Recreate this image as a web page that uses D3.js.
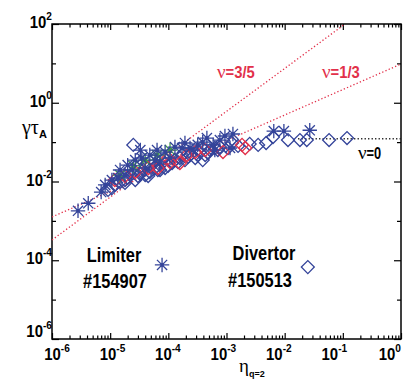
<!DOCTYPE html>
<html>
<head>
<meta charset="utf-8">
<script src="https://cdn.jsdelivr.net/npm/d3@7"></script>
<style>
body { margin: 0; background: #fff; }
svg { display: block; }
</style>
</head>
<body>
<div id="chart"></div>
<script>
// growth rate vs resistivity, limiter (#154907) and divertor (#150513) shots

// limiter shot, blue asterisks
const limiterEta = [2.8e-6, 4.2e-6, 7.0e-6, 8.2e-6, 1.07e-5, 1.8e-5, 1.48e-5, 2.0e-5, 2.7e-5, 3.3e-5,
                    3.5e-5, 4.0e-5, 4.8e-5, 6.4e-5, 7.2e-5, 8.8e-5, 1.07e-4, 1.3e-4, 1.72e-4, 2.36e-4,
                    3.2e-4, 4.6e-4, 5.9e-4, 6.3e-4, 9.4e-4, 1.15e-3, 1.29e-3, 6.5e-3, 9.7e-3, 2.7e-2,
                    1.93e-4, 2.65e-4, 3.9e-4, 7.7e-4, 5.9e-5, 2.4e-5, 1.36e-5, 7.8e-5];
const limiterGamma = [1.8e-3, 2.8e-3, 5.4e-3, 8.2e-3, 1.09e-2, 1.46e-2, 1.96e-2, 2.6e-2, 3.5e-2, 6.3e-2,
                      3.95e-2, 2.2e-2, 4.7e-2, 6.3e-2, 3.1e-2, 5.6e-2, 3.95e-2, 7.5e-2, 7.1e-2, 7.1e-2,
                      8.5e-2, 0.127, 8.5e-2, 6.3e-2, 0.143, 7.1e-2, 0.161, 0.19, 0.19, 0.2,
                      9.5e-2, 6.3e-2, 0.1, 0.113, 3.5e-2, 1.96e-2, 1.23e-2, 7.6e-5];

// green asterisks
const greenEta = [1.48e-5, 2.5e-5, 4.0e-5, 6.4e-5, 1.07e-4];
const greenGamma = [1.46e-2, 2.5e-2, 3.5e-2, 4.7e-2, 6.3e-2];

// red diamonds
const redEta = [1.2e-5, 1.8e-5, 2.7e-5, 4.5e-5, 6.6e-5, 9.9e-5, 1.07e-4, 1.58e-4, 2.1e-4, 2.9e-4,
                4.3e-4, 8.7e-4, 1.85e-3, 2.1e-3];
const redGamma = [1.09e-2, 1.38e-2, 1.74e-2, 2.2e-2, 2.2e-2, 3.95e-2, 3.1e-2, 2.95e-2, 4.7e-2, 5.6e-2,
                  6.3e-2, 5.6e-2, 8.5e-2, 7.1e-2];

// divertor shot, blue diamonds
const divertorEta = [9.2e-6, 1.2e-5, 1.48e-5, 2.0e-5, 2.4e-5, 3.0e-5, 3.7e-5, 4.8e-5, 5.9e-5, 7.2e-5,
                     8.8e-5, 1.16e-4, 1.3e-4, 1.58e-4, 1.93e-4, 2.36e-4, 2.9e-4, 3.5e-4, 3.9e-4, 4.3e-4,
                     5.2e-4, 6.3e-4, 7.7e-4, 1.24e-3, 1.58e-3, 2.5e-3, 3.5e-3, 4.8e-3, 6.3e-3, 1.14e-2,
                     1.83e-2, 2.4e-2, 5.8e-2, 0.118, 2.5e-5, 2.5e-2, 1.8e-5, 4.0e-5, 7.2e-5,
                     1.07e-5, 1.8e-5, 2.7e-5, 3.3e-5, 4.5e-5, 6.6e-5, 9.9e-5, 1.47e-4, 2.18e-4, 3.2e-4,
                     4.8e-4, 7.1e-4, 1.06e-3, 1.72e-4, 7.8e-5, 4.0e-5];
const divertorGamma = [6.1e-3, 8.2e-3, 9.7e-3, 1.23e-2, 1.64e-2, 1.38e-2, 1.96e-2, 1.74e-2, 2.2e-2, 2.6e-2,
                       2.2e-2, 2.95e-2, 3.5e-2, 3.95e-2, 3.5e-2, 4.7e-2, 3.95e-2, 5.6e-2, 3.5e-2, 4.7e-2,
                       6.3e-2, 7.1e-2, 7.5e-2, 9.5e-2, 8.0e-2, 9.0e-2, 8.5e-2, 9.5e-2, 0.135, 0.113,
                       0.113, 0.113, 0.113, 0.127, 8.5e-2, 6.7e-5, 1.09e-2, 1.46e-2, 1.96e-2,
                       6.8e-3, 9.2e-3, 1.09e-2, 1.55e-2, 1.38e-2, 1.96e-2, 2.5e-2, 3.1e-2, 4.2e-2, 4.7e-2,
                       5.3e-2, 6.3e-2, 7.1e-2, 4.7e-2, 3.5e-2, 2.6e-2];

// scaling lines (end points)
const nu13Eta = [1e-6, 1];
const nu13Gamma = [1.26e-3, 9.6];
const nu35Eta = [1e-6, 0.109];
const nu35Gamma = [3.27e-4, 100];
const nu0Eta = [0.017, 1];
const nu0Gamma = [0.122, 0.122];

const xDecades = [-6, -5, -4, -3, -2, -1, 0];
const yDecades = [-6, -5, -4, -3, -2, -1, 0, 1, 2];
const yLabelDecades = [-6, -4, -2, 0, 2];

const W = 406, H = 381;
const pLeft = 52, pRight = 401, pTop = 24, pBottom = 339;
const blue = "#34449a", red = "#e2304a", green = "#3f9a45";
const sans = "'Liberation Sans', Arial, sans-serif";
const serif = "'Liberation Serif', 'DejaVu Serif', serif";

const svg = d3.select("#chart").append("svg").attr("width", W).attr("height", H);

const x = d3.scaleLog().domain([1e-6, 1]).range([pLeft, pRight]);
const y = d3.scaleLog().domain([1e-6, 1e2]).range([pBottom, pTop]);

const xMajor = xDecades.map(d => Math.pow(10, d));
const xMinor = [];
xDecades.slice(0, -1).forEach(d => {
  for (let m = 2; m < 10; m++) xMinor.push(m * Math.pow(10, d));
});
const yAll = yDecades.map(d => Math.pow(10, d));
const yEven = yAll.filter((v, i) => yDecades[i] % 2 === 0);
const yOdd = yAll.filter((v, i) => yDecades[i] % 2 !== 0);

function tickAxis(axis, sel) {
  sel.call(axis);
  sel.select(".domain").remove();
  sel.selectAll(".tick line").attr("stroke", "#000").attr("stroke-width", 1.2);
  sel.selectAll(".tick text").remove();
}

// ticks, all pointing inward
const ax = svg.append("g");
tickAxis(d3.axisBottom(x).tickValues(xMajor).tickSize(-6), ax.append("g").attr("transform", `translate(0,${pBottom})`));
tickAxis(d3.axisBottom(x).tickValues(xMinor).tickSize(-3.5), ax.append("g").attr("transform", `translate(0,${pBottom})`));
tickAxis(d3.axisTop(x).tickValues(xMajor).tickSize(-6), ax.append("g").attr("transform", `translate(0,${pTop})`));
tickAxis(d3.axisTop(x).tickValues(xMinor).tickSize(-3.5), ax.append("g").attr("transform", `translate(0,${pTop})`));
tickAxis(d3.axisLeft(y).tickValues(yEven).tickSize(-7), ax.append("g").attr("transform", `translate(${pLeft},0)`));
tickAxis(d3.axisLeft(y).tickValues(yOdd).tickSize(-4), ax.append("g").attr("transform", `translate(${pLeft},0)`));
tickAxis(d3.axisRight(y).tickValues(yEven).tickSize(-7), ax.append("g").attr("transform", `translate(${pRight},0)`));
tickAxis(d3.axisRight(y).tickValues(yOdd).tickSize(-4), ax.append("g").attr("transform", `translate(${pRight},0)`));

svg.append("rect")
  .attr("x", pLeft).attr("y", pTop)
  .attr("width", pRight - pLeft).attr("height", pBottom - pTop)
  .attr("fill", "none").attr("stroke", "#000").attr("stroke-width", 1.5);

// condensed bold text: Liberation Sans squeezed horizontally
function narrowText(tx, ty, anchor, sx) {
  return svg.append("text")
    .attr("transform", `translate(${tx},${ty}) scale(${sx},1)`)
    .attr("text-anchor", anchor)
    .attr("font-family", sans).attr("font-weight", "bold");
}

// tick labels 10^n
xDecades.forEach((d, i) => {
  const t = narrowText(x(Math.pow(10, d)) + 5 - 2.7 * i, 360, "middle", 0.88);
  t.append("tspan").attr("font-size", 17).text("10");
  t.append("tspan").attr("font-size", 11.5).attr("dy", -8).text(d);
});
yLabelDecades.forEach(d => {
  const v = Math.pow(10, d);
  const t = narrowText(52, y(v) + (d === -6 ? -2 : 4), "end", 0.88);
  t.append("tspan").attr("font-size", 17).text("10");
  t.append("tspan").attr("font-size", 11.5).attr("dy", -8).text(d);
});

// axis titles
const yt = svg.append("text").attr("x", 22).attr("y", 134);
yt.append("tspan").attr("font-family", serif).attr("font-size", 20).text("γτ");
yt.append("tspan").attr("font-family", sans).attr("font-weight", "bold").attr("font-size", 11).attr("dy", 4).text("A");

const xt = svg.append("text").attr("x", 239).attr("y", 372);
xt.append("tspan").attr("font-family", serif).attr("font-size", 19).text("η");
xt.append("tspan").attr("font-family", sans).attr("font-weight", "bold").attr("font-size", 9).attr("dy", 5).text("q=2");

// scaling lines
svg.append("clipPath").attr("id", "plotclip")
  .append("rect").attr("x", pLeft).attr("y", pTop).attr("width", pRight - pLeft).attr("height", pBottom - pTop);

const line = d3.line().x(d => x(d[0])).y(d => y(d[1]));
const lines = svg.append("g").attr("clip-path", "url(#plotclip)");
[[nu13Eta, nu13Gamma, red], [nu35Eta, nu35Gamma, red], [nu0Eta, nu0Gamma, "#222"]].forEach(([ex, ey, c]) => {
  lines.append("path")
    .attr("d", line(d3.zip(ex, ey)))
    .attr("fill", "none")
    .attr("stroke", c)
    .attr("stroke-width", 1.3)
    .attr("stroke-dasharray", "1.3,2.2");
});

// markers
const diamond = d3.symbol(d3.symbolSquare, 84)();
const R = 7.2, D = R / Math.SQRT2;
const asterisk = `M${-R},0L${R},0M0,${-R}L0,${R}M${-D},${-D}L${D},${D}M${-D},${D}L${D},${-D}`;

function drawDiamonds(ex, ey, c) {
  svg.append("g").selectAll("path").data(d3.zip(ex, ey)).join("path")
    .attr("d", diamond)
    .attr("transform", d => `translate(${x(d[0])},${y(d[1])}) rotate(45)`)
    .attr("fill", "none").attr("stroke", c).attr("stroke-width", 1.3);
}
function drawStars(ex, ey, c) {
  const g = svg.append("g").selectAll("g").data(d3.zip(ex, ey)).join("g")
    .attr("transform", d => `translate(${x(d[0])},${y(d[1])})`);
  g.append("path").attr("d", asterisk).attr("fill", "none").attr("stroke", c).attr("stroke-width", 1.3);
  g.append("circle").attr("r", 1.7).attr("fill", c);
}

drawDiamonds(divertorEta, divertorGamma, blue);
drawDiamonds(redEta, redGamma, red);
drawStars(greenEta, greenGamma, green);
drawStars(limiterEta, limiterGamma, blue);

// annotations
function nuLabel(tx, ty, rest, color) {
  const t = svg.append("text").attr("x", tx).attr("y", ty).attr("fill", color);
  t.append("tspan").attr("font-family", serif).attr("font-size", 19).text("ν");
  t.append("tspan").attr("font-family", sans).attr("font-weight", "bold").attr("font-size", 16)
    .attr("textLength", rest.length * 7.3).attr("lengthAdjust", "spacingAndGlyphs").text(rest);
}
nuLabel(217, 78, "=3/5", red);
nuLabel(322, 78, "=1/3", red);
nuLabel(358, 159, "=0", "#000");

[["Limiter", 114, 262], ["#154907", 115, 288], ["Divertor", 264, 260], ["#150513", 260, 287]].forEach(([s, tx, ty]) => {
  narrowText(tx, ty, "middle", 0.82).attr("font-size", 20).text(s);
});
</script>
</body>
</html>
